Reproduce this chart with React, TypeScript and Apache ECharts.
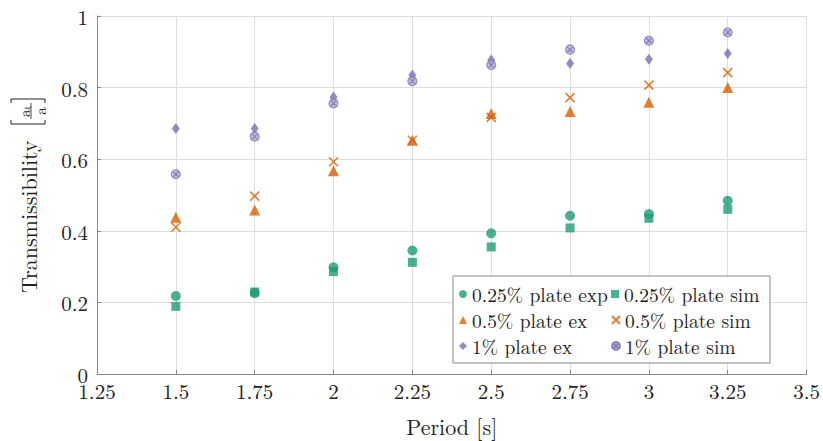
import React, { useEffect, useRef } from "react";
import * as echarts from "echarts";

const periods = [1.5, 1.75, 2, 2.25, 2.5, 2.75, 3, 3.25];
const plate025Exp = [0.218, 0.226, 0.298, 0.345, 0.393, 0.442, 0.447, 0.484];
const plate025Sim = [0.189, 0.229, 0.286, 0.312, 0.355, 0.408, 0.435, 0.46];
const plate05Exp = [0.438, 0.458, 0.568, 0.653, 0.728, 0.733, 0.759, 0.8];
const plate05Sim = [0.41, 0.497, 0.593, 0.653, 0.717, 0.772, 0.807, 0.842];
const plate1Exp = [0.686, 0.686, 0.774, 0.835, 0.877, 0.867, 0.879, 0.895];
const plate1Sim = [0.558, 0.663, 0.756, 0.818, 0.863, 0.906, 0.931, 0.954];

const seriesNames = [
  "0.25% plate exp",
  "0.25% plate sim",
  "0.5% plate ex",
  "0.5% plate sim",
  "1% plate ex",
  "1% plate sim",
];

const GREEN = "#1b9e77";
const ORANGE = "#d95f02";
const PURPLE = "#7570b3";
const FONT = "Latin Modern Roman";
const TEXT = "#222";

const pair = (ys: number[]) => periods.map((x, i) => [x, ys[i]]);

export default function App() {
  const ref = useRef<HTMLDivElement>(null);
  useEffect(() => {
    if (!ref.current) return;
    const chart = echarts.init(ref.current, undefined, { renderer: "svg" });
    const crossPath = "path://M0,0L10,10M10,0L0,10";
    const otimesPath =
      "path://M10,5A5,5,0,1,1,0,5A5,5,0,1,1,10,5ZM1.6,1.6L8.4,8.4M8.4,1.6L1.6,8.4";
    chart.setOption({
      animation: false,
      textStyle: { fontFamily: FONT },
      grid: { left: 97, right: 15, top: 16, bottom: 67, containLabel: false },
      xAxis: {
        type: "value",
        min: 1.25,
        max: 3.5,
        interval: 0.25,
        name: "Period [s]",
        nameLocation: "middle",
        nameGap: 40,
        nameTextStyle: { fontFamily: FONT, fontSize: 22, color: TEXT },
        axisLine: { show: true, lineStyle: { color: "#888", width: 1 } },
        axisTick: { show: true, inside: true, length: 4, lineStyle: { color: "#888" } },
        axisLabel: { fontFamily: FONT, fontSize: 21, color: TEXT, margin: 8, lineHeight: 16 },
        splitLine: { show: true, lineStyle: { color: "#dddddd", width: 1 } },
      },
      yAxis: {
        type: "value",
        min: 0,
        max: 1,
        interval: 0.2,
        axisLine: { show: true, lineStyle: { color: "#888", width: 1 } },
        axisTick: { show: true, inside: true, length: 4, lineStyle: { color: "#888" } },
        axisLabel: { fontFamily: FONT, fontSize: 21, color: TEXT, margin: 9, lineHeight: 14 },
        splitLine: { show: true, lineStyle: { color: "#dddddd", width: 1 } },
      },
      legend: {
        left: 453,
        top: 276,
        orient: "horizontal",
        width: 316,
        padding: [5, 6, 4, 6],
        itemGap: 0,
        itemWidth: 8,
        itemHeight: 8,
        borderColor: "#888",
        borderWidth: 1,
        backgroundColor: "#fff",
        textStyle: {
          fontFamily: FONT,
          fontSize: 19.5,
          color: TEXT,
          width: 139,
          lineHeight: 26,
        },
        data: seriesNames,
      },
      graphic: [
        {
          type: "group",
          x: 28,
          y: 190,
          rotation: Math.PI / 2,
          children: [
            {
              type: "text",
              x: -103,
              y: -1,
              style: {
                text: "Transmissibility",
                fontFamily: FONT,
                fontSize: 22,
                fill: TEXT,
                textAlign: "left",
                textVerticalAlign: "middle",
              },
            },
            {
              type: "polyline",
              shape: { points: [[70, -17], [66, -17], [66, 17], [70, 17]] },
              style: { stroke: TEXT, lineWidth: 1, fill: "none" },
            },
            {
              type: "polyline",
              shape: { points: [[87, -17], [91, -17], [91, 17], [87, 17]] },
              style: { stroke: TEXT, lineWidth: 1, fill: "none" },
            },
            {
              type: "line",
              shape: { x1: 71, y1: 3, x2: 87, y2: 3 },
              style: { stroke: TEXT, lineWidth: 0.8 },
            },
            {
              type: "text",
              x: 73,
              y: -5,
              style: {
                text: "a",
                fontFamily: FONT,
                fontSize: 15,
                fill: TEXT,
                textAlign: "left",
                textVerticalAlign: "middle",
              },
            },
            {
              type: "text",
              x: 80.5,
              y: -1,
              style: {
                text: "t",
                fontFamily: FONT,
                fontSize: 10,
                fill: TEXT,
                textAlign: "left",
                textVerticalAlign: "middle",
              },
            },
            {
              type: "text",
              x: 79,
              y: 11,
              style: {
                text: "a",
                fontFamily: FONT,
                fontSize: 15,
                fill: TEXT,
                textAlign: "center",
                textVerticalAlign: "middle",
              },
            },
          ],
        },
      ],
      series: [
        {
          name: seriesNames[0],
          type: "scatter",
          data: pair(plate025Exp),
          symbol: "circle",
          symbolSize: 10,
          itemStyle: { color: GREEN },
        },
        {
          name: seriesNames[1],
          type: "scatter",
          data: pair(plate025Sim),
          symbol: "rect",
          symbolSize: 9,
          itemStyle: { color: GREEN },
        },
        {
          name: seriesNames[2],
          type: "scatter",
          data: pair(plate05Exp),
          symbol: "triangle",
          symbolSize: 11,
          itemStyle: { color: ORANGE },
        },
        {
          name: seriesNames[3],
          type: "scatter",
          data: pair(plate05Sim),
          symbol: crossPath,
          symbolSize: 9,
          itemStyle: { color: ORANGE, borderColor: ORANGE, borderWidth: 1.6 },
        },
        {
          name: seriesNames[4],
          type: "scatter",
          data: pair(plate1Exp),
          symbol: "diamond",
          symbolSize: [8, 11],
          itemStyle: { color: PURPLE },
        },
        {
          name: seriesNames[5],
          type: "scatter",
          data: pair(plate1Sim),
          symbol: otimesPath,
          symbolSize: 9,
          itemStyle: { color: "#aeabd6", borderColor: PURPLE, borderWidth: 1.1 },
        },
      ],
    });
    return () => chart.dispose();
  }, []);
  return <div ref={ref} style={{ width: 823, height: 441, position: "absolute", left: 0, top: 0 }} />;
}
